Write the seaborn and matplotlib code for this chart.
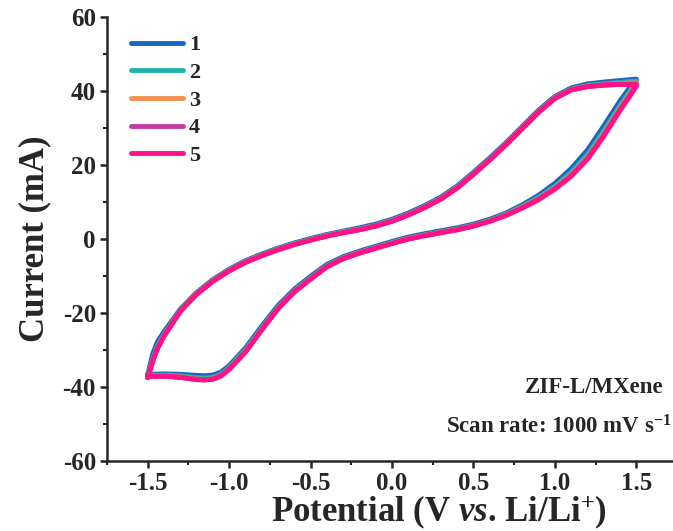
import numpy as np
import pandas as pd
import seaborn as sns
import matplotlib.pyplot as plt
from matplotlib.ticker import MultipleLocator

# potential grids (V vs Li/Li+), anodic sweep then cathodic sweep
pot_anodic = [-1.5, -1.47, -1.44, -1.4, -1.3, -1.2, -1.1, -1.0, -0.9, -0.8, -0.7,
              -0.6, -0.5, -0.4, -0.3, -0.2, -0.1, 0.0, 0.1, 0.2, 0.3, 0.4, 0.5,
              0.6, 0.7, 0.8, 0.9, 1.0, 1.1, 1.2, 1.3, 1.4, 1.5]
pot_cathodic = [1.5, 1.45, 1.4, 1.3, 1.2, 1.1, 1.0, 0.9, 0.8, 0.7, 0.6, 0.5, 0.4,
                0.3, 0.2, 0.1, 0.0, -0.1, -0.2, -0.3, -0.4, -0.5, -0.6, -0.7,
                -0.8, -0.9, -1.0, -1.05, -1.1, -1.15, -1.2, -1.3, -1.4, -1.5]

# current (mA), one list per cycle and sweep
cyc1_an = [-36.8, -31.2, -27.8, -25.1, -19.0, -14.5, -11.0, -8.2, -5.9, -4.1, -2.5,
           -1.1, 0.1, 1.2, 2.1, 3.0, 4.0, 5.3, 7.0, 9.0, 11.3, 14.3, 18.0,
           21.9, 26.0, 30.4, 34.8, 38.5, 40.8, 41.9, 42.4, 42.8, 43.2]
cyc1_ca = [43.0, 40.3, 37.3, 30.5, 24.0, 19.0, 15.0, 11.8, 9.2, 7.0, 5.3, 4.0, 3.0,
           2.2, 1.4, 0.5, -0.7, -2.0, -3.3, -4.8, -6.9, -10.1, -13.6, -18.0,
           -23.6, -29.5, -34.3, -36.0, -36.8, -37.0, -36.9, -36.6, -36.5, -36.6]

cyc2_an = [-37.2, -32.4, -28.9, -25.8, -19.3, -14.7, -11.2, -8.4, -6.1, -4.3, -2.7,
           -1.3, -0.1, 1.0, 1.9, 2.7, 3.7, 5.0, 6.7, 8.7, 11.0, 14.0, 17.7,
           21.6, 25.7, 30.1, 34.5, 38.2, 40.5, 41.5, 41.9, 42.3, 42.7]
cyc2_ca = [42.5, 39.2, 36.1, 29.2, 22.8, 18.0, 14.2, 11.2, 8.8, 6.7, 5.0, 3.7, 2.7,
           1.9, 1.1, 0.2, -1.0, -2.3, -3.6, -5.1, -7.2, -10.5, -14.0, -18.4,
           -24.1, -30.0, -34.8, -36.6, -37.4, -37.6, -37.5, -37.0, -36.8, -36.9]

cyc3_an = [-37.4, -32.8, -29.3, -26.0, -19.4, -14.8, -11.3, -8.5, -6.2, -4.4, -2.8,
           -1.4, -0.2, 0.9, 1.8, 2.6, 3.6, 4.9, 6.6, 8.6, 10.9, 13.9, 17.6,
           21.5, 25.6, 30.0, 34.4, 38.1, 40.4, 41.3, 41.7, 42.0, 42.2]
cyc3_ca = [42.0, 38.6, 35.4, 28.4, 22.1, 17.4, 13.8, 10.9, 8.6, 6.5, 4.9, 3.6, 2.6,
           1.8, 1.0, 0.1, -1.1, -2.4, -3.7, -5.2, -7.4, -10.7, -14.2, -18.7,
           -24.4, -30.3, -35.1, -36.9, -37.8, -38.0, -37.9, -37.3, -37.0, -37.0]

cyc4_an = [-37.5, -33.0, -29.5, -26.2, -19.5, -14.9, -11.4, -8.6, -6.3, -4.5, -2.9,
           -1.5, -0.3, 0.8, 1.7, 2.5, 3.5, 4.8, 6.5, 8.5, 10.8, 13.8, 17.5,
           21.4, 25.5, 29.9, 34.3, 38.0, 40.3, 41.2, 41.6, 41.8, 41.9]
cyc4_ca = [41.6, 38.2, 35.0, 28.0, 21.8, 17.1, 13.6, 10.7, 8.4, 6.4, 4.8, 3.5, 2.5,
           1.7, 0.9, 0.0, -1.2, -2.5, -3.8, -5.3, -7.5, -10.8, -14.3, -18.8,
           -24.5, -30.5, -35.2, -37.0, -37.9, -38.1, -38.0, -37.4, -37.1, -37.1]

cyc5_an = [-37.5, -33.0, -29.5, -26.2, -19.5, -14.9, -11.4, -8.6, -6.3, -4.5, -2.9,
           -1.5, -0.3, 0.8, 1.7, 2.5, 3.5, 4.8, 6.5, 8.5, 10.8, 13.8, 17.5,
           21.4, 25.5, 29.9, 34.3, 38.0, 40.3, 41.2, 41.6, 41.8, 41.6]
cyc5_ca = [41.3, 38.0, 34.8, 27.8, 21.6, 17.0, 13.5, 10.7, 8.4, 6.4, 4.8, 3.5, 2.5,
           1.7, 0.9, 0.0, -1.2, -2.5, -3.8, -5.3, -7.5, -10.8, -14.3, -18.8,
           -24.5, -30.5, -35.2, -37.0, -37.9, -38.1, -38.0, -37.4, -37.1, -37.2]

cycle_labels = ['1', '2', '3', '4', '5']
colors = ['#1764C4', '#1DB5A7', '#F39050', '#C53AA0', '#FF1285']

cycles = [(cyc1_an, cyc1_ca), (cyc2_an, cyc2_ca), (cyc3_an, cyc3_ca),
          (cyc4_an, cyc4_ca), (cyc5_an, cyc5_ca)]

sns.set_style('ticks')
plt.rcParams['font.family'] = ['Liberation Serif', 'DejaVu Serif']
plt.rcParams['font.weight'] = 'bold'
plt.rcParams['mathtext.fontset'] = 'custom'
plt.rcParams['mathtext.rm'] = 'Liberation Serif:bold'
plt.rcParams['mathtext.it'] = 'Liberation Serif:italic:bold'
plt.rcParams['mathtext.bf'] = 'Liberation Serif:bold'
plt.rcParams['mathtext.default'] = 'rm'

fig = plt.figure(figsize=(6.73, 5.31), dpi=100)
ax = fig.add_axes([0.159, 0.132, 0.847, 0.836])

for lab, col, (an, ca) in zip(cycle_labels, colors, cycles):
    df = pd.DataFrame({'pot': pot_anodic + pot_cathodic, 'cur': an + ca})
    sns.lineplot(data=df, x='pot', y='cur', sort=False, estimator=None,
                 color=col, lw=3.6, label=lab, ax=ax)

ax.set_xlim(-1.75, 1.75)
ax.set_ylim(-60, 60)
ax.xaxis.set_major_locator(MultipleLocator(0.5))
ax.xaxis.set_minor_locator(MultipleLocator(0.25))
ax.yaxis.set_major_locator(MultipleLocator(20))
ax.yaxis.set_minor_locator(MultipleLocator(10))
ax.tick_params(which='major', direction='out', length=5, width=1.8, labelsize=18, pad=3)
ax.tick_params(which='minor', direction='out', length=3, width=1.5)
for lbl in ax.get_xticklabels() + ax.get_yticklabels():
    lbl.set_fontweight('bold')
ax.xaxis.set_major_formatter(plt.FuncFormatter(lambda v, p: f'{v:.1f}'))
ax.yaxis.set_major_formatter(plt.FuncFormatter(lambda v, p: f'{v:.0f}'))

sns.despine(ax=ax)
ax.spines['left'].set_linewidth(1.8)
ax.spines['bottom'].set_linewidth(1.8)

ax.set_xlabel(r'Potential (V $\mathit{vs}$. Li/Li$^{+}$)', fontsize=25, fontweight='bold')
ax.xaxis.set_label_coords(0.583, -0.072)
ax.set_ylabel('Current (mA)', fontsize=25, fontweight='bold', labelpad=8)

leg = ax.legend(loc='upper left', bbox_to_anchor=(0.019, 0.99), frameon=False,
                fontsize=16, handlelength=2.35, handletextpad=0.25, labelspacing=0.32,
                borderaxespad=0.2)
for line in leg.get_lines():
    line.set_linewidth(3.5)
for t in leg.get_texts():
    t.set_fontweight('bold')

fig.text(0.986, 0.271, 'ZIF-L/MXene', ha='right', va='center', fontsize=16.5, fontweight='bold')
fig.text(0.998, 0.196, r'Scan rate: 1000 mV s$^{-1}$', ha='right', va='center',
         fontsize=16.5, fontweight='bold')

fig.savefig('out.png', dpi=100)
